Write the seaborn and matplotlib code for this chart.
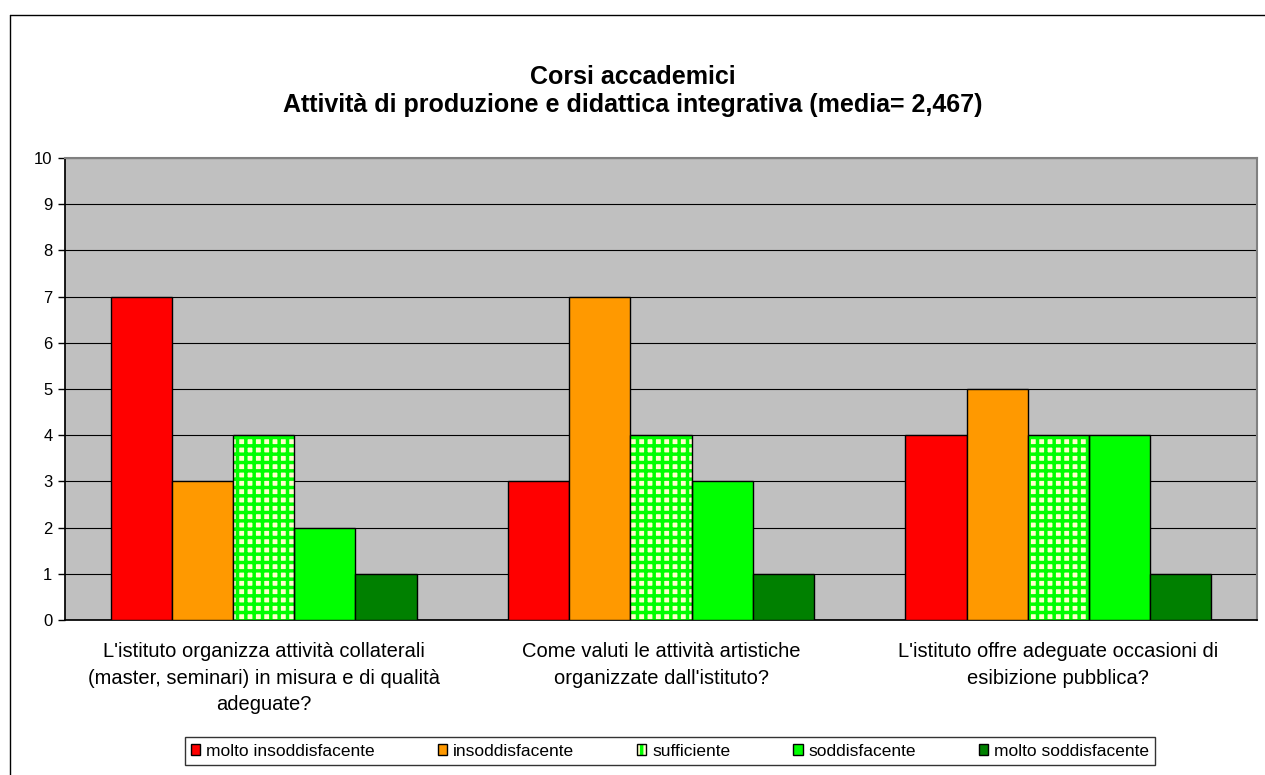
import matplotlib
matplotlib.use("Agg")
import matplotlib.pyplot as plt
import matplotlib.patches as mpatches
from matplotlib.legend_handler import HandlerTuple
import seaborn as sns
import pandas as pd

questions = [
    "L'istituto organizza attività collaterali\n(master, seminari) in misura e di qualità\nadeguate?",
    "Come valuti le attività artistiche\norganizzate dall'istituto?",
    "L'istituto offre adeguate occasioni di\nesibizione pubblica?",
]
categories = ["molto insoddisfacente", "insoddisfacente", "sufficiente",
              "soddisfacente", "molto soddisfacente"]
molto_insodd = [7, 3, 4]
insodd = [3, 7, 5]
sufficiente = [4, 4, 4]
soddisf = [2, 3, 4]
molto_soddisf = [1, 1, 1]
title = "Corsi accademici\nAttività di produzione e didattica integrativa (media= 2,467)"

colors = ["#FF0000", "#FF9900", "#FFFFCC", "#00FF00", "#008000"]

series = [molto_insodd, insodd, sufficiente, soddisf, molto_soddisf]
rows = []
for cat, vals in zip(categories, series):
    for q, v in zip(questions, vals):
        rows.append({"domanda": q, "giudizio": cat, "valore": v})
df = pd.DataFrame(rows)

sns.set_theme(style="white")
plt.rcParams["font.family"] = ["Liberation Sans", "DejaVu Sans"]
plt.rcParams["hatch.linewidth"] = 2.5
plt.rcParams["text.color"] = "black"
plt.rcParams["xtick.color"] = "black"
plt.rcParams["ytick.color"] = "black"

fig = plt.figure(figsize=(12.65, 7.75), dpi=100)
ax = fig.add_axes([65 / 1265, 1 - 620 / 775, 1192 / 1265, 462 / 775])
ax.set_facecolor("#C0C0C0")

sns.barplot(data=df, x="domanda", y="valore", hue="giudizio",
            order=questions, hue_order=categories, palette=colors,
            width=0.77, gap=0, ax=ax, edgecolor="black", linewidth=1,
            saturation=1, zorder=3, legend=False)

# hatch for "sufficiente" bars
n_q = len(questions)
for i, patch in enumerate(ax.patches[:n_q * len(categories)]):
    hue_idx = i // n_q
    if categories[hue_idx] == "sufficiente":
        patch.set_hatch("++")
        patch.set_edgecolor("#00FF00")
        patch.set_linewidth(0)
        x, y = patch.get_xy()
        ax.add_patch(mpatches.Rectangle((x, y), patch.get_width(), patch.get_height(),
                                        fill=False, edgecolor="black", linewidth=1, zorder=4))

ax.set_ylim(0, 10)
ax.set_yticks(range(0, 11))
ax.yaxis.grid(True, color="black", linewidth=0.8, zorder=1)
ax.set_axisbelow(True)
ax.set_xlabel("")
ax.set_ylabel("")
ax.tick_params(axis="y", labelsize=12, length=5, width=1, color="black", left=True, pad=4)
ax.tick_params(axis="x", labelsize=14.5, length=0, pad=16)
for lbl in ax.get_xticklabels():
    lbl.set_linespacing(1.5)
for s in ["top", "right"]:
    ax.spines[s].set_visible(True)
    ax.spines[s].set_color("#808080")
    ax.spines[s].set_linewidth(1.5)
ax.spines["left"].set_color("black")
ax.spines["bottom"].set_color("black")
ax.set_xlim(-0.5, n_q - 0.5)

fig.text(0.5, 1 - 91 / 775, title, ha="center", va="center",
         fontsize=18, fontweight="bold", linespacing=1.2)

handles = []
for c, cat in zip(colors, categories):
    if cat == "sufficiente":
        h = (mpatches.Patch(facecolor=c, edgecolor="#00FF00", linewidth=0, hatch="+"),
             mpatches.Patch(fill=False, edgecolor="black", linewidth=1))
    else:
        h = mpatches.Patch(facecolor=c, edgecolor="black", linewidth=1)
    handles.append(h)
leg = fig.legend(handles=handles, labels=categories, loc="center",
                 bbox_to_anchor=(670 / 1265, 1 - 751 / 775),
                 handler_map={tuple: HandlerTuple(ndivide=1, pad=0)},
                 ncol=5, fontsize=12.5, frameon=True, fancybox=False, handlelength=0.55,
                 handleheight=0.55, handletextpad=0.35, columnspacing=3.6,
                 borderpad=0.35, edgecolor="black")
leg.get_frame().set_linewidth(1)

# outer chart border
fig.add_artist(plt.Line2D([10 / 1265, 10 / 1265], [0, 1 - 15 / 775], color="black",
                          linewidth=1, transform=fig.transFigure))
fig.add_artist(plt.Line2D([10 / 1265, 1], [1 - 15 / 775, 1 - 15 / 775], color="black",
                          linewidth=1, transform=fig.transFigure))

fig.savefig("out.png", dpi=100, facecolor="white")
